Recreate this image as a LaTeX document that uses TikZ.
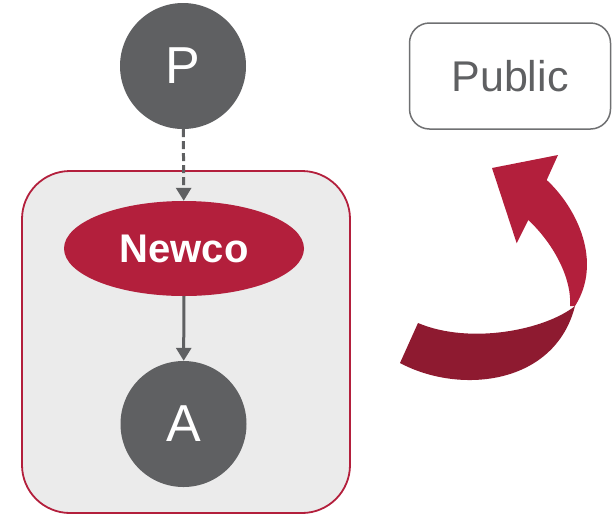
\documentclass[tikz,border=0pt]{standalone}
\usepackage{fontspec}
\setmainfont{Liberation Sans}
\usepackage{tikz}
\usetikzlibrary{shapes.geometric}
\usetikzlibrary{arrows.meta}
\definecolor{nodegray}{HTML}{5F6062}
\definecolor{newcored}{HTML}{B31F3C}
\definecolor{darkred}{HTML}{8E1A30}
\definecolor{boxgray}{HTML}{EBEBEB}

\begin{document}
\begin{tikzpicture}[x=1pt, y=-1pt, >={Triangle[length=13pt,width=15pt]},
		party/.style={circle, fill=nodegray, minimum size=126pt, inner sep=0pt,
			text=white, font=\fontsize{52}{52}\selectfont},
		newco/.style={ellipse, fill=newcored, minimum width=240pt, minimum height=95pt,
			inner sep=0pt, text=white, font=\fontsize{40}{40}\selectfont\bfseries},
		group/.style={draw=newcored, fill=boxgray, line width=1.8pt, rounded corners=48pt,
			minimum width=328pt, minimum height=342pt},
		pubbox/.style={draw=nodegray!90, line width=1.5pt, rounded corners=20pt,
			minimum width=201pt, minimum height=106pt, text=nodegray,
			font=\fontsize{43}{43}\selectfont},
		link/.style={->, draw=nodegray, line width=3pt}]
			\useasboundingbox (0,0) rectangle (612,515);
			% group box
			\node[group] (grp) at (186,342) {};
			% nodes
			\node[party] (P) at (183,66) {P};
			\node[newco] (N) at (184,248.5) {Newco};
			\node[party] (A) at (183.5,424) {A};
			\node[pubbox] (pub) at (510,76) {Public};
			% arrows
			\draw[link, dash pattern=on 8pt off 4pt] (P) -- (N);
			\draw[link] (N) -- (A);
			% curved ribbon arrow
			\coordinate (tip) at (492,168);
			\coordinate (wingR) at (558,155);
			\coordinate (wingL) at (516.7,243.3);
			\coordinate (outS) at (546.7,180);
			\coordinate (inS) at (528.3,220);
			\coordinate (twist) at (575,306);
			\fill[newcored] (tip) -- (wingR) -- (outS)
				.. controls (577,208) and (603,262) .. (twist) -- (570,306)
				.. controls (572,280) and (555,245) .. (inS) -- (wingL) -- cycle;
			\fill[darkred] (twist) .. controls (545,330) and (470,345) .. (418,323)
				-- (400,363) .. controls (460,395) and (555,385) .. (twist) -- cycle;
		\end{tikzpicture}
\end{document}
